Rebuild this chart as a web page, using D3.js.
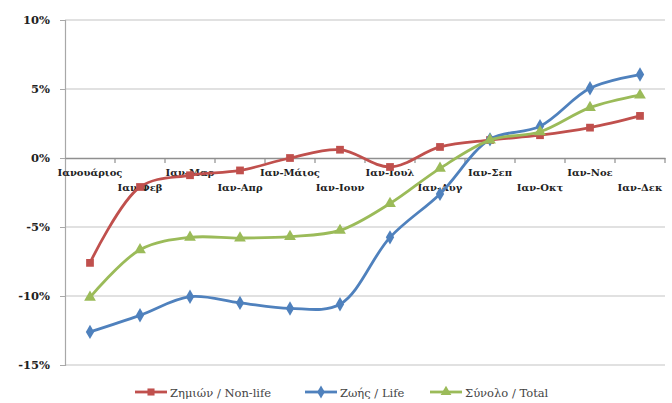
<!DOCTYPE html>
<html><head><meta charset="utf-8">
<script src="https://cdn.jsdelivr.net/npm/d3@7"></script>
<style>body{margin:0;background:#fff}svg{display:block}</style>
</head><body>
<svg id="c" width="672" height="403"></svg>
<script>
const categories = ["Ιανουάριος","Ιαν-Φεβ","Ιαν-Μαρ","Ιαν-Απρ","Ιαν-Μάιος","Ιαν-Ιουν","Ιαν-Ιουλ","Ιαν-Αυγ","Ιαν-Σεπ","Ιαν-Οκτ","Ιαν-Νοε","Ιαν-Δεκ"];
const nonLife = [-7.6,-2.1,-1.25,-0.9,0.0,0.6,-0.65,0.8,1.3,1.65,2.2,3.05];
const life = [-12.6,-11.4,-10.05,-10.5,-10.9,-10.6,-5.75,-2.6,1.35,2.3,5.05,6.05];
const total = [-10.1,-6.65,-5.75,-5.8,-5.7,-5.25,-3.3,-0.75,1.3,1.9,3.65,4.55];
const yTicks = [10,5,0,-5,-10,-15];
const seriesNames = ["Ζημιών / Non-life","Ζωής / Life","Σύνολο / Total"];

(function(){
const svg = d3.select("#c");
const mL = 65, mR = 665, mT = 20, mB = 365;
const x = d3.scaleBand().domain(categories).range([mL,mR]);
const y = d3.scaleLinear().domain([-15,10]).range([mB,mT]);
const serif = "DejaVu Serif";

svg.append("g").selectAll("line").data(yTicks.filter(d=>d!==0)).join("line")
  .attr("x1",mL).attr("x2",mR).attr("y1",d=>y(d)).attr("y2",d=>y(d))
  .attr("stroke","#c4c4c4").attr("stroke-width",1.2);

const ya = svg.append("g").attr("transform",`translate(${mL},0)`)
  .call(d3.axisLeft(y).tickValues(yTicks).tickFormat(d=>d+"%").tickSize(5).tickPadding(10));
ya.select(".domain").attr("stroke","#a8a8a8").attr("stroke-width",1.2);
ya.selectAll(".tick line").attr("stroke","#a8a8a8");
ya.selectAll("text").attr("font-family",serif).attr("font-weight","bold").attr("font-size",11.5).attr("fill","#222");

const xa = svg.append("g").attr("transform",`translate(0,${y(0)})`)
  .call(d3.axisBottom(x).tickSize(0).tickFormat(""));
xa.select(".domain").attr("stroke","#8f8f8f").attr("stroke-width",1.5);
svg.append("g").selectAll("line").data(categories).join("line")
  .attr("x1",d=>x(d)+x.bandwidth()).attr("x2",d=>x(d)+x.bandwidth())
  .attr("y1",y(0)).attr("y2",y(0)+5).attr("stroke","#8f8f8f").attr("stroke-width",1.2);

// category labels (staggered in two rows to avoid overlap)
svg.append("g").selectAll("text").data(categories).join("text")
  .attr("x",d=>x(d)+x.bandwidth()/2)
  .attr("y",(d,i)=>y(0)+(i%2===0?18:33))
  .attr("text-anchor","middle")
  .attr("font-family",serif).attr("font-weight","bold")
  .attr("font-size",10).attr("fill","#222").text(d=>d);

const series = [
  {name:seriesNames[0], values:nonLife, color:"#c0504d", sym:d3.symbolSquare, size:60},
  {name:seriesNames[1], values:life, color:"#4f81bd", sym:d3.symbolDiamond, size:60},
  {name:seriesNames[2], values:total, color:"#9bbb59", sym:d3.symbolTriangle, size:60}
];
const line = d3.line().x((d,i)=>x(categories[i])+x.bandwidth()/2).y(d=>y(d)).curve(d3.curveCatmullRom.alpha(0.5));
series.forEach(s=>{
  svg.append("path").datum(s.values).attr("d",line).attr("fill","none")
    .attr("stroke",s.color).attr("stroke-width",2.8);
  svg.append("g").selectAll("path").data(s.values).join("path")
    .attr("transform",(d,i)=>`translate(${x(categories[i])+x.bandwidth()/2},${y(d)})`)
    .attr("d",d3.symbol().type(s.sym).size(s.size)).attr("fill",s.color);
});

const lx = [135,305,430];
series.forEach((s,i)=>{
  const g = svg.append("g").attr("transform",`translate(${lx[i]},392)`);
  g.append("line").attr("x1",0).attr("x2",32).attr("stroke",s.color).attr("stroke-width",2.8);
  g.append("path").attr("transform","translate(16,0)").attr("d",d3.symbol().type(s.sym).size(50)).attr("fill",s.color);
  g.append("text").attr("x",35).attr("y",4.5).attr("font-family",serif).attr("font-size",11.5).attr("fill","#444").text(s.name);
});
})();
</script>
</body></html>
